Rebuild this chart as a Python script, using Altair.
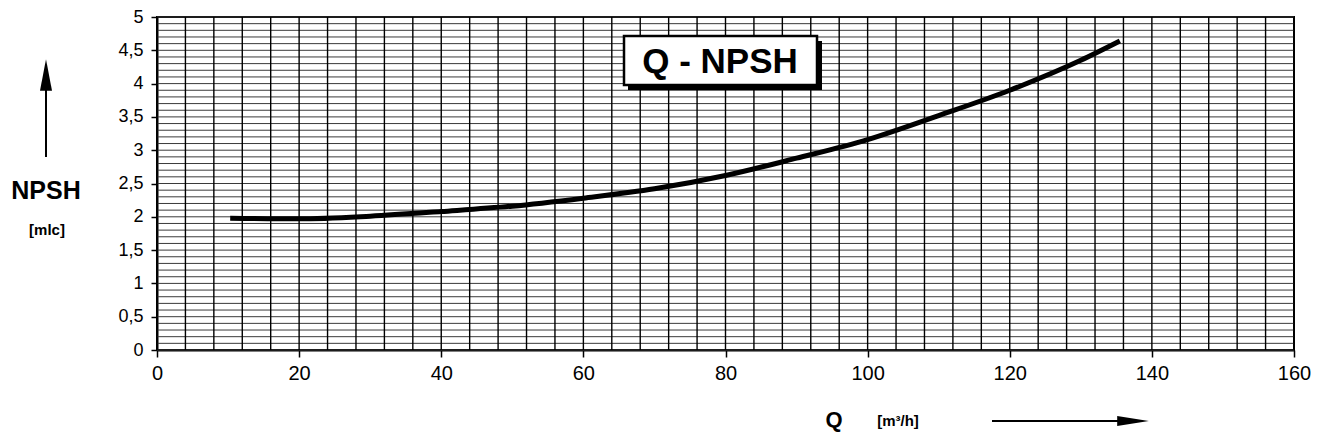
import altair as alt
import pandas as pd

# Curve values
q_values = [10.3, 20, 30, 40, 50, 60, 70, 80, 90, 100, 110, 120, 130, 135.5]
npsh_values = [1.98, 1.97, 2.01, 2.08, 2.16, 2.28, 2.42, 2.62, 2.88, 3.16, 3.52, 3.90, 4.35, 4.64]

x_ticks = [0, 20, 40, 60, 80, 100, 120, 140, 160]
y_ticks = [0, 0.5, 1, 1.5, 2, 2.5, 3, 3.5, 4, 4.5, 5]
x_grid = list(range(0, 161, 4))
y_grid = [round(i / 10, 1) for i in range(0, 51)]

FONT = "Liberation Sans"
W, H = 1137, 333

xscale = alt.Scale(domain=[0, 160], nice=False, zero=False)
yscale = alt.Scale(domain=[0, 5], nice=False, zero=False)

x_axis = alt.Axis(values=x_ticks, grid=False, tickSize=7, tickColor="black", tickWidth=1.5,
                  domainColor="black", domainWidth=2, labelFont=FONT,
                  labelFontSize=20, labelColor="black", labelPadding=6,
                  labelFlush=False, title=None)
y_axis = alt.Axis(values=y_ticks, grid=False, tickSize=6, tickColor="black", tickWidth=1.5,
                  domainColor="black", domainWidth=2, labelFont=FONT,
                  labelFontSize=18, labelColor="black", labelPadding=8,
                  labelExpr="replace(toString(datum.value), '.', ',')", title=None)

curve = pd.DataFrame({"Q": q_values, "NPSH": npsh_values})
one = pd.DataFrame({"a": [0]})

line = alt.Chart(curve).mark_line(
    color="black", strokeWidth=5, interpolate="monotone"
).encode(
    x=alt.X("Q:Q", scale=xscale, axis=x_axis),
    y=alt.Y("NPSH:Q", scale=yscale, axis=y_axis),
)

hgrid = alt.Chart(pd.DataFrame({"NPSH": y_grid})).mark_rule(
    color="#3a3a3a", strokeWidth=1
).encode(y=alt.Y("NPSH:Q", scale=yscale, axis=y_axis))

vgrid = alt.Chart(pd.DataFrame({"Q": x_grid})).mark_rule(
    color="#000000", strokeWidth=1.4
).encode(x=alt.X("Q:Q", scale=xscale, axis=x_axis))

# Title box with shadow
shadow = alt.Chart(one).mark_rect(color="black").encode(
    x=alt.value(471), x2=alt.value(665), y=alt.value(24), y2=alt.value(73)
)
box = alt.Chart(one).mark_rect(fill="white", stroke="black", strokeWidth=2.5).encode(
    x=alt.value(467), x2=alt.value(660), y=alt.value(19), y2=alt.value(68)
)
box_text = alt.Chart(one).mark_text(
    text="Q - NPSH", font=FONT, fontSize=35, fontWeight="bold", color="black",
    align="center", baseline="middle"
).encode(x=alt.value(563), y=alt.value(45))

# Y title and upward arrow
y_title = alt.Chart(one).mark_text(
    text="NPSH", font=FONT, fontSize=25, fontWeight="bold", color="black",
    align="center", baseline="middle"
).encode(x=alt.value(-111), y=alt.value(174))
y_unit = alt.Chart(one).mark_text(
    text="[mlc]", font=FONT, fontSize=15, fontWeight="bold", color="black",
    align="center", baseline="middle"
).encode(x=alt.value(-110), y=alt.value(213))
y_shaft = alt.Chart(one).mark_rule(color="black", strokeWidth=2).encode(
    x=alt.value(-111), y=alt.value(62), y2=alt.value(140)
)
y_head = alt.Chart(one).mark_point(
    shape="M0,-1L0.38,1L-0.38,1Z", size=1000, filled=True, color="black", opacity=1
).encode(x=alt.value(-111), y=alt.value(58))

# X title and right arrow
x_title = alt.Chart(one).mark_text(
    text="Q", font=FONT, fontSize=22, fontWeight="bold", color="black",
    align="center", baseline="middle"
).encode(x=alt.value(677), y=alt.value(403))
x_unit = alt.Chart(one).mark_text(
    text="[m³/h]", font=FONT, fontSize=15, fontWeight="bold", color="black",
    align="center", baseline="middle"
).encode(x=alt.value(741), y=alt.value(404))
x_shaft = alt.Chart(one).mark_rule(color="black", strokeWidth=2).encode(
    x=alt.value(835), x2=alt.value(972), y=alt.value(404)
)
x_head = alt.Chart(one).mark_point(
    shape="M1,0L-1,0.32L-1,-0.32Z", size=1000, filled=True, color="black", opacity=1
).encode(x=alt.value(976), y=alt.value(404))

# faint scan line at far left
scan = alt.Chart(one).mark_rule(color="#9a9a9a", strokeWidth=1.5).encode(
    x=alt.value(-152), y=alt.value(223), y2=alt.value(430)
)

chart = alt.layer(
    hgrid, vgrid, line, shadow, box, box_text,
    y_title, y_unit, y_shaft, y_head,
    x_title, x_unit, x_shaft, x_head, scan
).properties(
    width=W, height=H,
    autosize=alt.AutoSizeParams(type="none"),
    padding={"left": 149, "top": 9, "right": 27, "bottom": 85},
    background="white",
).configure_view(stroke="black", strokeWidth=2)

chart.save("out.html", embed_options={"renderer": "svg", "actions": False})
